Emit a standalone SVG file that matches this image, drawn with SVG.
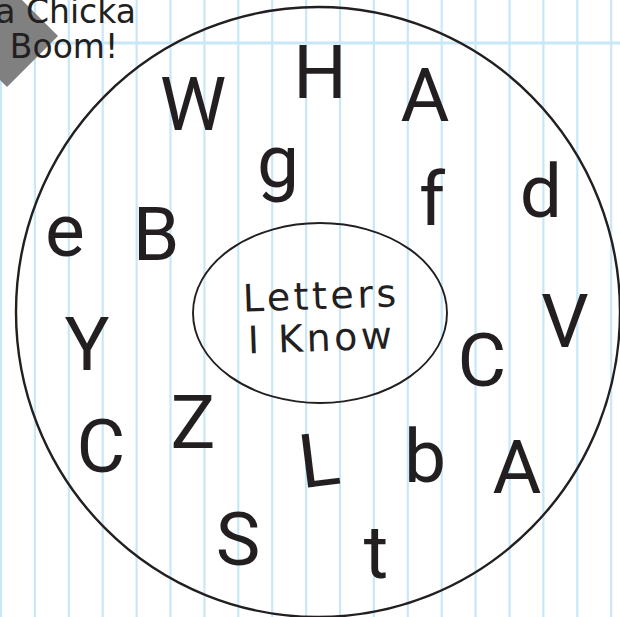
<svg xmlns="http://www.w3.org/2000/svg" width="620" height="617" viewBox="0 0 620 617">
<style>
.grid line{stroke:#c8e8f8;stroke-width:2.2}
.grid .h{stroke-width:3}
.ring{fill:none;stroke:#231f20;stroke-width:2.4}
.inner{fill:none;stroke:#231f20;stroke-width:1.9}
.lt{font-family:Roboto,"Noto Sans",sans-serif;font-size:75px;fill:#231f20;text-anchor:middle}
.lbl{font-family:"DejaVu Sans",sans-serif;font-size:38px;fill:#231f20;text-anchor:middle;letter-spacing:3.5px}
.title{font-family:"DejaVu Sans",sans-serif;font-size:33px;fill:#231f20}
</style>
<rect width="620" height="617" fill="#ffffff"/>
<g class="grid" id="grid">
<line x1="1" y1="0" x2="1" y2="617"/>
<line x1="34.9" y1="0" x2="34.9" y2="617"/>
<line x1="68.8" y1="0" x2="68.8" y2="617"/>
<line x1="102.7" y1="0" x2="102.7" y2="617"/>
<line x1="136.6" y1="0" x2="136.6" y2="617"/>
<line x1="170.5" y1="0" x2="170.5" y2="617"/>
<line x1="204.4" y1="0" x2="204.4" y2="617"/>
<line x1="238.3" y1="0" x2="238.3" y2="617"/>
<line x1="272.2" y1="0" x2="272.2" y2="617"/>
<line x1="306.1" y1="0" x2="306.1" y2="617"/>
<line x1="340" y1="0" x2="340" y2="617"/>
<line x1="373.9" y1="0" x2="373.9" y2="617"/>
<line x1="407.8" y1="0" x2="407.8" y2="617"/>
<line x1="441.7" y1="0" x2="441.7" y2="617"/>
<line x1="475.6" y1="0" x2="475.6" y2="617"/>
<line x1="509.5" y1="0" x2="509.5" y2="617"/>
<line x1="543.4" y1="0" x2="543.4" y2="617"/>
<line x1="577.3" y1="0" x2="577.3" y2="617"/>
<line x1="611.2" y1="0" x2="611.2" y2="617"/>
<line class="h" x1="0" y1="43" x2="620" y2="43"/>
</g>
<g id="title">
<polygon points="7,-15 58,36 7,87 -44,36" fill="#808080"/>
<text class="title" x="136" y="23" text-anchor="end">a Chicka</text>
<text class="title" x="64" y="58" text-anchor="middle">Boom!</text>
</g>
<g id="outer">
<ellipse class="ring" cx="318" cy="312" rx="302" ry="305"/>
</g>
<g id="center">
<ellipse class="inner" cx="320" cy="313" rx="127" ry="90"/>
<g transform="rotate(-2 320 320)">
<text class="lbl" x="322" y="309">Letters</text>
<text class="lbl" x="321" y="351">I Know</text>
</g>
</g>
<g id="letters">
<text class="lt" x="193" y="130">W</text>
<text class="lt" x="320" y="98">H</text>
<text class="lt" x="425" y="121">A</text>
<text class="lt" x="278" y="187">g</text>
<text class="lt" x="65" y="256">e</text>
<text class="lt" x="156" y="260">B</text>
<text class="lt" x="432" y="225">f</text>
<text class="lt" x="541" y="217">d</text>
<text class="lt" x="87" y="370">Y</text>
<text class="lt" x="101" y="472">C</text>
<text class="lt" x="193" y="448">Z</text>
<text class="lt" x="319" y="486" transform="rotate(-7 319 460)">L</text>
<text class="lt" x="425" y="482">b</text>
<text class="lt" x="482" y="386">C</text>
<text class="lt" x="565" y="347">V</text>
<text class="lt" x="517" y="493">A</text>
<text class="lt" x="238" y="565">S</text>
<text class="lt" x="376" y="578">t</text>
</g>
</svg>
